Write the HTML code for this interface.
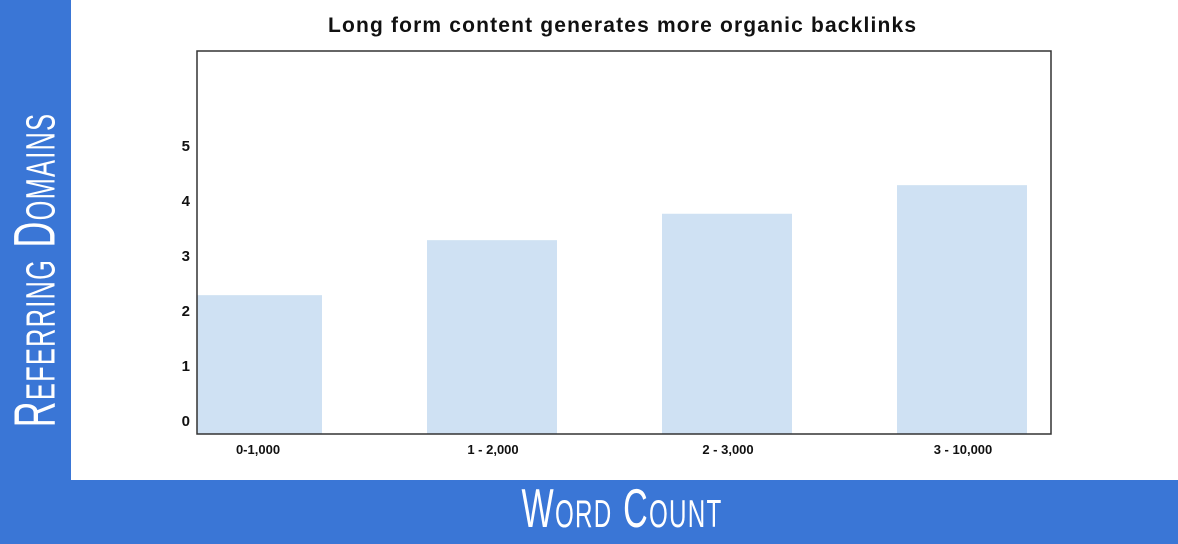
<!DOCTYPE html>
<html><head><meta charset="utf-8"><style>
body{margin:0;width:1178px;height:544px;overflow:hidden;background:#3a76d6;font-family:"Liberation Sans",sans-serif}
#panel{position:absolute;left:71px;top:0;width:1107px;height:480px;background:#fff}
.axt{position:absolute;color:#fff;font-family:"Liberation Sans Narrow","Liberation Sans",sans-serif;font-variant:small-caps;letter-spacing:2px;white-space:nowrap}
</style></head><body>
<div id="panel"></div>
<div class="axt" style="left:35px;top:270px;font-size:58px;transform:translate(-50%,-50%) rotate(-90deg) scaleX(0.62)">Referring Domains</div>
<div class="axt" style="left:622px;top:508px;font-size:55px;transform:translate(-50%,-50%) scaleX(0.62)">Word Count</div>
<svg id="c" width="1178" height="544" style="position:absolute;left:0;top:0"></svg>
<script>
const categories=["0-1,000","1 - 2,000","2 - 3,000","3 - 10,000"];
const values=[2.27,3.27,3.75,4.27];
const ticks=[0,1,2,3,4,5];
const NS="http://www.w3.org/2000/svg";
const svg=document.getElementById('c');
function y(v){return 420-55*v;}
function x(i){return 192+235*i;}
function mk(t,a,p){const e=document.createElementNS(NS,t);for(const k in a)e.setAttribute(k,a[k]);(p||svg).appendChild(e);return e;}
const title=mk('text',{x:622,y:32,'text-anchor':'middle','font-size':21,'font-weight':'bold',fill:'#111','font-family':'Liberation Sans',textLength:588,lengthAdjust:'spacing'});
title.textContent="Long form content generates more organic backlinks";


values.forEach((v,i)=>{
 const bx=Math.max(x(i),197);
 const r=mk('rect',{x:bx,y:y(v),width:x(i)+130-bx,height:434-y(v),fill:'#cfe1f3'});
 
 
 const t=mk('text',{x:x(i)+66,y:454,'text-anchor':'middle','font-size':13,'font-weight':'bold',fill:'#111'});
 t.textContent=categories[i];
 
 
});
ticks.forEach(v=>{
 const t=mk('text',{x:190,y:y(v)+6,'text-anchor':'end','font-size':15,'font-weight':'bold',fill:'#111'});
 t.textContent=v;
 
 
});
const f=mk('rect',{x:197,y:51,width:854,height:383,fill:'none',stroke:'#333','stroke-width':1.5});


</script>
</body></html>
